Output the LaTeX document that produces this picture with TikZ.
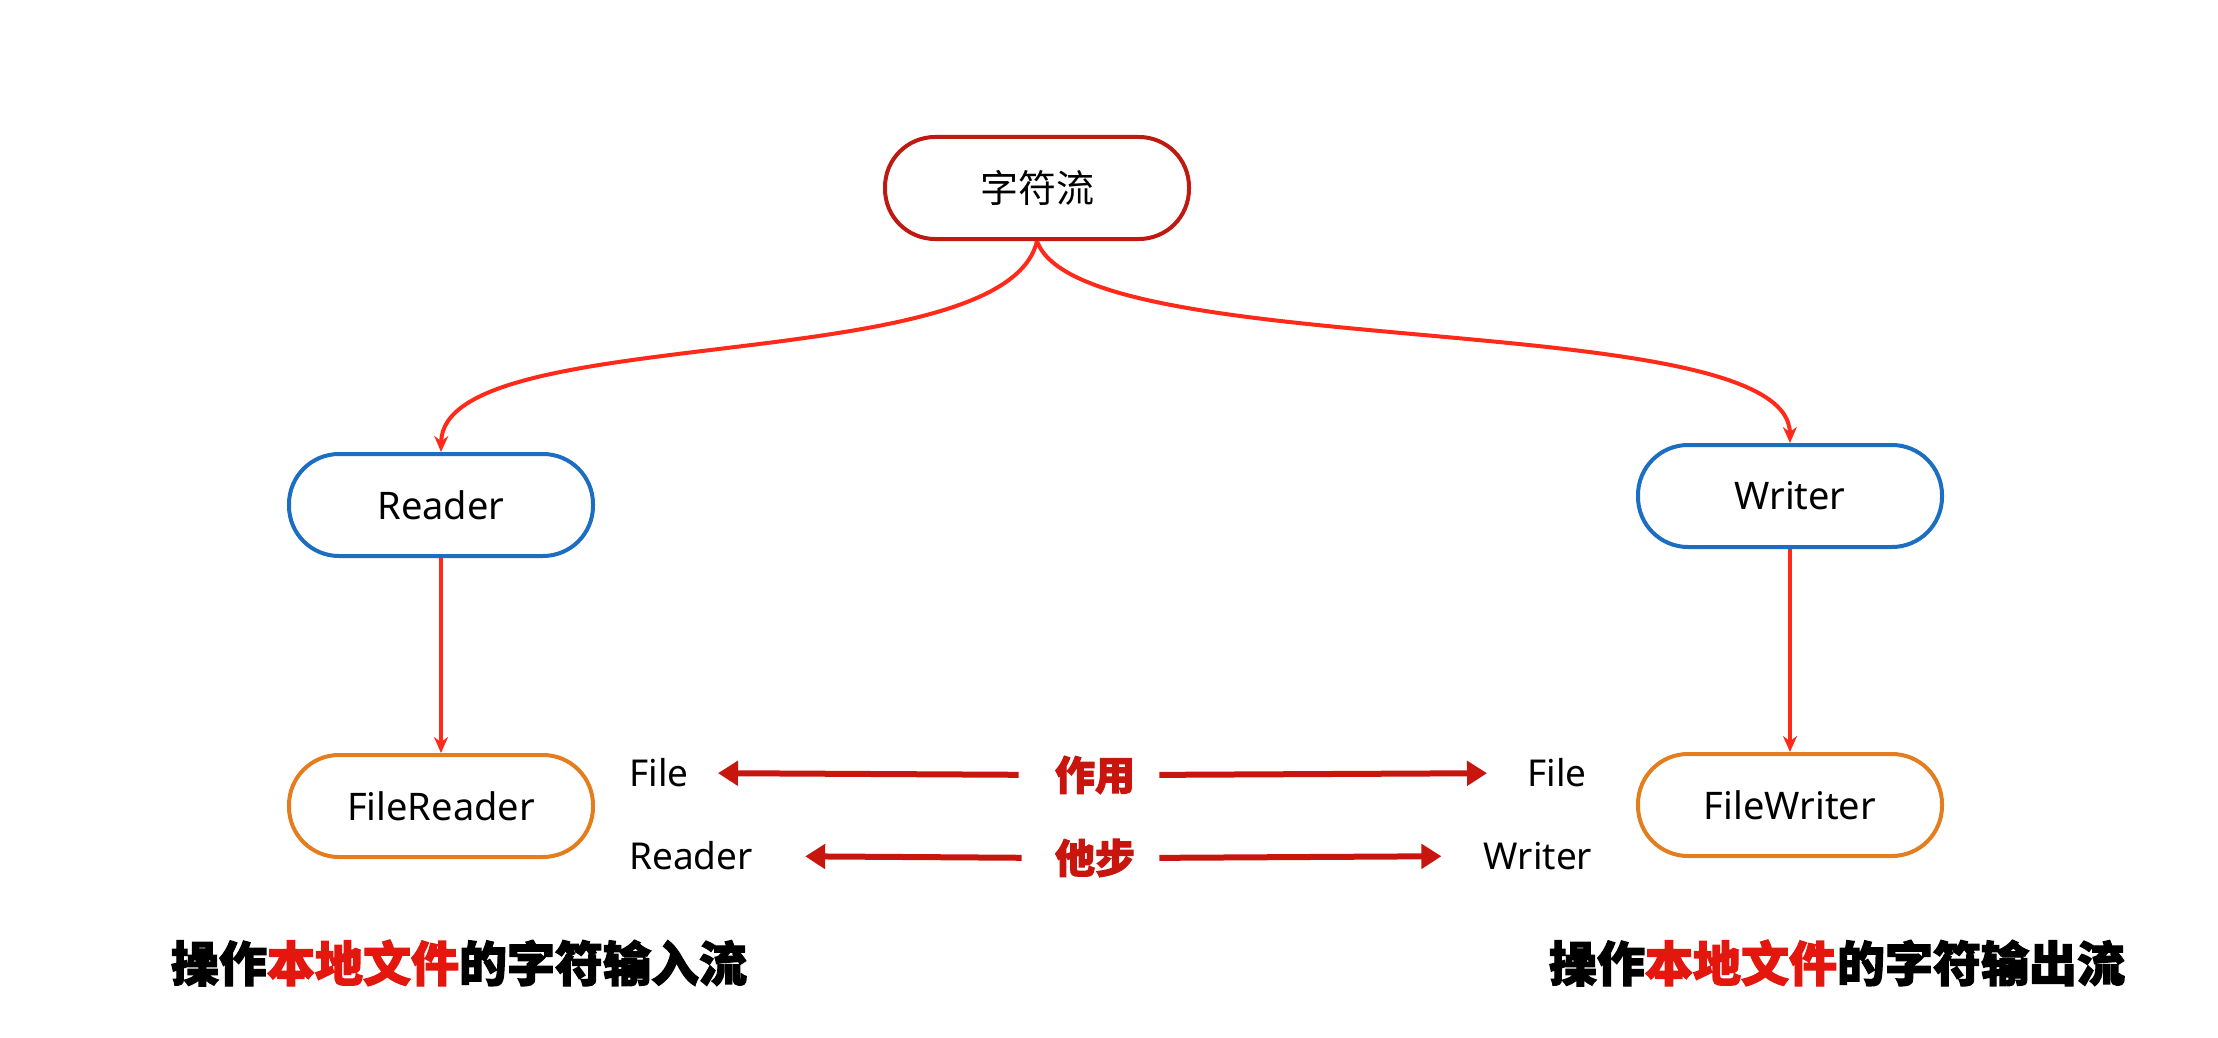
\documentclass[tikz,border=0pt]{standalone}
\usepackage{fontspec}
\setmainfont{Noto Sans}
\newfontfamily\cjk{Noto Sans CJK SC}
\newfontfamily\cjkheavy{Noto Sans CJK SC}[FakeBold=2.5]
\usetikzlibrary{arrows.meta}

\definecolor{topred}{HTML}{BE1A12}
\definecolor{boxblue}{HTML}{1B6EC2}
\definecolor{boxorange}{HTML}{E47D1E}
\definecolor{linkred}{HTML}{FF2A1A}
\definecolor{arrred}{HTML}{C8160E}
\definecolor{txtred}{HTML}{E3170D}

\tikzset{
  pill/.style={draw, line width=2pt, rounded corners=25pt, minimum width=152pt, minimum height=51pt, fill=white, font=\fontsize{19}{21}\selectfont},
  link/.style={draw=linkred, line width=2pt, -{Stealth[length=8pt,width=7pt]}},
  dual/.style={draw=arrred, line width=3pt, -{Triangle[length=10pt,width=12pt]}},
  side/.style={inner sep=0pt, font=\fontsize{18.5}{20}\selectfont},
  mid/.style={inner sep=0pt, text=arrred, font=\cjkheavy\bfseries\fontsize{20}{22}\selectfont},
  slogan/.style={inner sep=0pt, font=\cjkheavy\bfseries\fontsize{24}{26}\selectfont},
}

\begin{document}
\begin{tikzpicture}[x=0.5pt, y=-0.5pt]
    \useasboundingbox (0,0) rectangle (2218,1038);

    \node[pill, draw=topred] (top) at (1037,188) {\cjk 字符流};
    \node[pill, draw=boxblue] (reader) at (441,505) {Reader};
    \node[pill, draw=boxblue] (writer) at (1790,496) {Writer};
    \node[pill, draw=boxorange] (freader) at (441,806) {FileReader};
    \node[pill, draw=boxorange] (fwriter) at (1790,805) {FileWriter};

    \draw[link] (top.south) .. controls (1005,380) and (443,320) .. (reader.north);
    \draw[link] (top.south) .. controls (1080,365) and (1789,305) .. (writer.north);
    \draw[link] (reader) -- (freader);
    \draw[link] (writer) -- (fwriter);

    % middle comparison
    \node[side] (fileL) at (659,773) {File};
    \node[mid] (zy) at (1095,775) {作用};
    \node[side] (fileR) at (1557,773) {File};
    \node[side] (readerL) at (691,856) {Reader};
    \node[mid] (tb) at (1095,858) {他步};
    \node[side] (writerR) at (1538,856) {Writer};

    \draw[dual, shorten <=18pt, shorten >=14.5pt] (zy.west) -- (fileL.east);
    \draw[dual, shorten <=12pt, shorten >=20pt] (zy.east) -- (fileR.west);
    \draw[dual, shorten <=16.5pt, shorten >=26pt] (tb.west) -- (readerL.east);
    \draw[dual, shorten <=12pt, shorten >=21pt] (tb.east) -- (writerR.west);

    \node[slogan] (inL) at (459,963) {操作{\color{txtred}本地文件}的字符输入流};
    \node[slogan] (outR) at (1837,963) {操作{\color{txtred}本地文件}的字符输出流};
\end{tikzpicture}
\end{document}
